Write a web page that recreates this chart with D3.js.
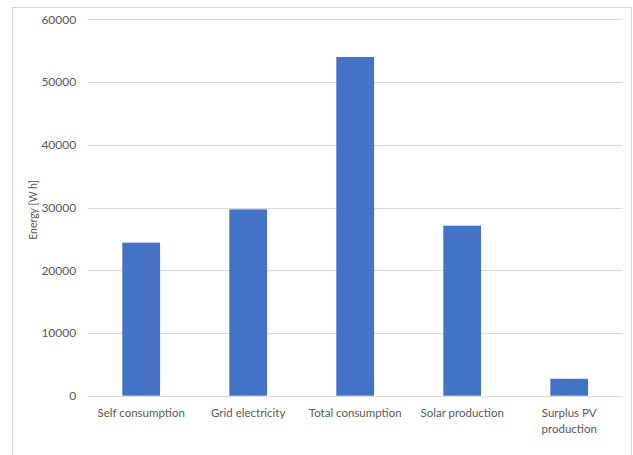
<!DOCTYPE html>
<html>
<head>
<meta charset="utf-8">
<script src="https://cdn.jsdelivr.net/npm/d3@7"></script>
<style>
  html, body { margin: 0; padding: 0; background: #fff; }
  svg { display: block; }
  text { font-family: Lato, "Open Sans", sans-serif; fill: #595959; }
</style>
</head>
<body>
<script>
const categories = ["Self consumption", "Grid electricity", "Total consumption", "Solar production", "Surplus PV production"];
const values = [24400, 29700, 54000, 27100, 2700];
const yTicks = [0, 10000, 20000, 30000, 40000, 50000, 60000];
const yTitle = "Energy [W h]";

(function () {
const W = 633, H = 455;
const svg = d3.select("body").append("svg").attr("width", W).attr("height", H);

// chart border
svg.append("rect").attr("x", 12.5).attr("y", 7.5).attr("width", 619).attr("height", 460)
  .attr("fill", "#fff").attr("stroke", "#d9d9d9").attr("stroke-width", 1);

const mLeft = 87.7, mRight = 622.7, mTop = 19.3, mBottom = 395.7;

const x = d3.scaleBand().domain(categories).range([mLeft, mRight]).paddingInner(0.647).paddingOuter(0.3235);
const y = d3.scaleLinear().domain([0, 60000]).range([mBottom, mTop]);

// gridlines
svg.append("g").selectAll("line").data(yTicks).join("line")
  .attr("x1", mLeft).attr("x2", mRight)
  .attr("y1", d => Math.round(y(d)) + 0.5).attr("y2", d => Math.round(y(d)) + 0.5)
  .attr("stroke", "#d9d9d9").attr("stroke-width", 1);

// y axis labels
const yAxis = d3.axisLeft(y).tickValues(yTicks).tickSize(0).tickPadding(0).tickFormat(d3.format("d"));
const gy = svg.append("g").attr("transform", `translate(${mLeft - 11.5},0)`).call(yAxis);
gy.select(".domain").remove();
gy.selectAll("text").attr("font-size", "12px").attr("fill", "#636363").attr("font-family", "Lato, sans-serif");

// bars
svg.append("g").selectAll("rect").data(values).join("rect")
  .attr("x", (d, i) => x(categories[i]))
  .attr("width", x.bandwidth())
  .attr("y", d => y(d))
  .attr("height", d => y(0) - y(d))
  .attr("fill", "#4472c4");

// x labels
const xl = svg.append("g");
categories.forEach(c => {
  const cx = x(c) + x.bandwidth() / 2;
  const lines = c === "Surplus PV production" ? ["Surplus PV", "production"] : [c];
  lines.forEach((t, j) => {
    xl.append("text").attr("x", cx).attr("y", 416.5 + j * 16)
      .attr("text-anchor", "middle").attr("font-size", "11.5px").attr("fill", "#636363").text(t);
  });
});

// y title
svg.append("text").attr("transform", `translate(36.5,210) rotate(-90)`)
  .attr("text-anchor", "middle").attr("font-size", "10.5px").attr("fill", "#636363").text(yTitle);
})();
</script>
</body>
</html>
